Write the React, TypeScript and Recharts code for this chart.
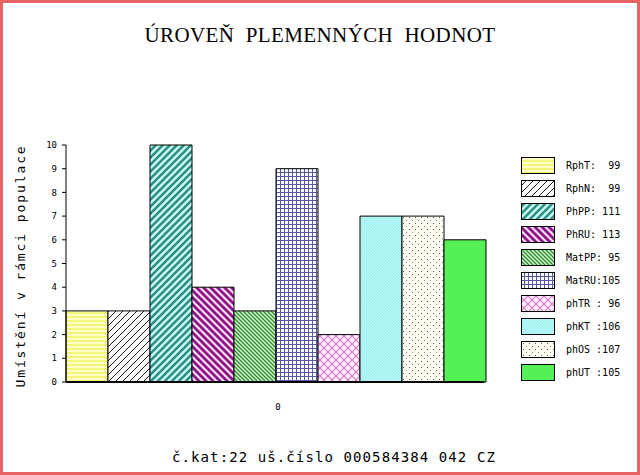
import { BarChart, Bar, XAxis, YAxis } from 'recharts';

const seriesKeys = ['RphT', 'RphN', 'PhPP', 'PhRU', 'MatPP', 'MatRU', 'phTR', 'phKT', 'phOS', 'phUT'];
const seriesValues = [3, 3, 10, 4, 3, 9, 2, 7, 7, 6];
const legendLabels = [
  'RphT:  99',
  'RphN:  99',
  'PhPP: 111',
  'PhRU: 113',
  'MatPP: 95',
  'MatRU:105',
  'phTR : 96',
  'phKT :106',
  'phOS :107',
  'phUT :105',
];
const categories = ['0'];
const yTicks = [0, 1, 2, 3, 4, 5, 6, 7, 8, 9, 10];

const data = categories.map((name) => {
  const row: Record<string, string | number> = { name };
  seriesKeys.forEach((k, i) => (row[k] = seriesValues[i]));
  return row;
});

const mono = '"DejaVu Sans Mono", "Liberation Mono", monospace';

function Patterns() {
  return (
    <svg width={0} height={0} style={{ position: 'absolute' }}>
      <defs>
        <pattern id="p0" width={4} height={4} patternUnits="userSpaceOnUse">
          <rect width={4} height={4} fill="#ffffc4" />
          <rect width={4} height={2} fill="#f4f47a" />
        </pattern>
        <pattern id="p1" width={7} height={7} patternUnits="userSpaceOnUse">
          <rect width={7} height={7} fill="#ffffff" />
          <path d="M0,7 L7,0 M-1,1 L1,-1 M6,8 L8,6" stroke="#000" strokeWidth={0.9} />
        </pattern>
        <pattern id="p2" width={7} height={7} patternUnits="userSpaceOnUse">
          <rect width={7} height={7} fill="#c8fafa" />
          <path d="M0,7 L7,0 M-1,1 L1,-1 M6,8 L8,6" stroke="#2f9080" strokeWidth={2.6} />
        </pattern>
        <pattern id="p3" width={7} height={7} patternUnits="userSpaceOnUse">
          <rect width={7} height={7} fill="#ffe0ff" />
          <path d="M0,0 L7,7 M-1,6 L1,8 M6,-1 L8,1" stroke="#8a1688" strokeWidth={2.8} />
        </pattern>
        <pattern id="p4" width={4} height={4} patternUnits="userSpaceOnUse">
          <rect width={4} height={4} fill="#d4f8d4" />
          <path d="M0,0 L4,4 M-1,3 L1,5 M3,-1 L5,1" stroke="#2a8a2a" strokeWidth={1.3} />
        </pattern>
        <pattern id="p5" width={4} height={4} patternUnits="userSpaceOnUse">
          <rect width={4} height={4} fill="#ffffff" />
          <path d="M0,0.5 L4,0.5 M0.5,0 L0.5,4" stroke="#5a5aa0" strokeWidth={1} />
        </pattern>
        <pattern id="p6" width={8} height={8} patternUnits="userSpaceOnUse">
          <rect width={8} height={8} fill="#ffeaff" />
          <path d="M0,0 L8,8 M8,0 L0,8" stroke="#cc80c0" strokeWidth={1.2} />
        </pattern>
        <pattern id="p7" width={3} height={3} patternUnits="userSpaceOnUse">
          <rect width={3} height={3} fill="#a4f0f0" />
          <path d="M0,3 L3,0" stroke="#c8ffff" strokeWidth={0.8} />
        </pattern>
        <pattern id="p8" width={6} height={6} patternUnits="userSpaceOnUse">
          <rect width={6} height={6} fill="#fffff6" />
          <rect x={1} y={1} width={1} height={1} fill="#555" />
          <rect x={4} y={4} width={1} height={1} fill="#888" />
        </pattern>
        <pattern id="p9" width={4} height={4} patternUnits="userSpaceOnUse">
          <rect width={4} height={4} fill="#55f055" />
        </pattern>
      </defs>
    </svg>
  );
}

export default function App() {
  return (
    <div
      style={{
        position: 'absolute',
        left: 0,
        top: 0,
        width: 640,
        height: 475,
        background: '#fff',
        overflow: 'hidden',
      }}
    >
      <Patterns />
      <BarChart
        width={640}
        height={475}
        data={data}
        margin={{ top: 145, right: 156, bottom: 63, left: 26 }}
        barCategoryGap={0}
        barGap={0}
      >
        <XAxis
          dataKey="name"
          height={30}
          axisLine={{ stroke: '#000', strokeWidth: 2 }}
          tickLine={false}
          tickMargin={16}
          tick={{ fontFamily: mono, fontSize: 9, fill: '#000', dx: 3 }}
        />
        <YAxis
          width={40}
          domain={[0, 10]}
          ticks={yTicks}
          interval={0}
          axisLine={{ stroke: '#000' }}
          tickLine={{ stroke: '#000' }}
          tickSize={4}
          tickMargin={5}
          tick={{ fontFamily: mono, fontSize: 9, fill: '#000' }}
        />
        {seriesKeys.map((k, i) => (
          <Bar
            key={k}
            dataKey={k}
            fill={`url(#p${i})`}
            stroke="#000"
            strokeWidth={1}
            isAnimationActive={false}
          />
        ))}
      </BarChart>

      <svg width={640} height={475} style={{ position: 'absolute', left: 0, top: 0, pointerEvents: 'none' }}>
        <text
          x={320}
          y={42}
          textAnchor="middle"
          fontFamily='"Liberation Serif", "DejaVu Serif", serif'
          fontSize={21}
          letterSpacing={0.4}
          fill="#000"
          style={{ whiteSpace: 'pre' }}
        >
          ÚROVEŇ  PLEMENNÝCH  HODNOT
        </text>
        <text
          x={25}
          y={266}
          textAnchor="middle"
          transform="rotate(-90 25 266)"
          fontFamily={mono}
          fontSize={13}
          letterSpacing={1.9}
          fill="#000"
        >
          Umístění v rámci populace
        </text>
        <text
          x={334}
          y={462}
          textAnchor="middle"
          fontFamily={mono}
          fontSize={14}
          letterSpacing={1.1}
          fill="#000"
        >
          č.kat:22 uš.číslo 000584384 042 CZ
        </text>
        {legendLabels.map((label, i) => (
          <g key={label}>
            <rect
              x={521.5}
              y={157.5 + i * 23}
              width={33}
              height={16}
              fill={`url(#p${i})`}
              stroke="#000"
              strokeWidth={1}
            />
            <text
              x={566}
              y={169 + i * 23}
              fontFamily={mono}
              fontSize={10}
              fill="#000"
              style={{ whiteSpace: 'pre' }}
            >
              {label}
            </text>
          </g>
        ))}
      </svg>

      <div
        style={{
          position: 'absolute',
          left: 0,
          top: 0,
          width: 640,
          height: 475,
          boxSizing: 'border-box',
          border: '3px solid #e86464',
          pointerEvents: 'none',
        }}
      />
    </div>
  );
}
